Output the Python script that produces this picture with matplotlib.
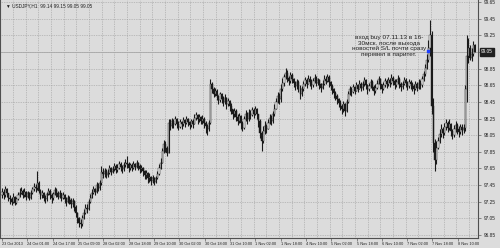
import numpy as np
import matplotlib
matplotlib.use("Agg")
import matplotlib.pyplot as plt
import matplotlib.transforms as mtransforms

# USDJPY H1 bars (one row = 16 bars)
close = [
    97.37, 97.33, 97.40, 97.35, 97.30, 97.28, 97.25, 97.31, 97.24, 97.28, 97.33, 97.36, 97.38, 97.33, 97.37, 97.31,
    97.35, 97.30, 97.36, 97.40, 97.43, 97.41, 97.47, 97.38, 97.33, 97.36, 97.30, 97.28, 97.34, 97.38, 97.33, 97.29,
    97.34, 97.39, 97.36, 97.31, 97.35, 97.30, 97.33, 97.28, 97.25, 97.30, 97.27, 97.22, 97.26, 97.19, 97.12, 97.05,
    97.00, 96.98, 97.06, 97.12, 97.18, 97.16, 97.25, 97.30, 97.36, 97.40, 97.37, 97.45, 97.41, 97.47, 97.61, 97.58,
    97.62, 97.57, 97.60, 97.65, 97.61, 97.64, 97.68, 97.63, 97.66, 97.70, 97.67, 97.64, 97.69, 97.72, 97.70, 97.66,
    97.69, 97.66, 97.70, 97.67, 97.71, 97.68, 97.64, 97.66, 97.62, 97.57, 97.60, 97.53, 97.55, 97.50, 97.54, 97.49,
    97.53, 97.58, 97.66, 97.72, 97.86, 97.94, 97.90, 97.84, 98.20, 98.16, 98.22, 98.18, 98.24, 98.19, 98.15, 98.21,
    98.18, 98.23, 98.20, 98.25, 98.21, 98.17, 98.22, 98.19, 98.26, 98.29, 98.24, 98.27, 98.22, 98.25, 98.20, 98.16,
    98.12, 98.20, 98.66, 98.60, 98.55, 98.58, 98.52, 98.47, 98.54, 98.49, 98.45, 98.50, 98.42, 98.46, 98.40, 98.36,
    98.30, 98.34, 98.27, 98.22, 98.28, 98.20, 98.14, 98.25, 98.30, 98.24, 98.32, 98.29, 98.35, 98.31, 98.36, 98.30,
    98.22, 98.08, 97.98, 98.10, 98.16, 98.12, 98.20, 98.26, 98.22, 98.30, 98.37, 98.45, 98.52, 98.49, 98.60, 98.68,
    98.75, 98.80, 98.74, 98.70, 98.77, 98.72, 98.68, 98.64, 98.69, 98.62, 98.55, 98.60, 98.66, 98.71, 98.67, 98.73,
    98.69, 98.65, 98.70, 98.74, 98.68, 98.71, 98.66, 98.62, 98.67, 98.73, 98.70, 98.75, 98.69, 98.64, 98.60, 98.56,
    98.52, 98.48, 98.44, 98.40, 98.36, 98.42, 98.34, 98.45, 98.55, 98.60, 98.57, 98.63, 98.58, 98.65, 98.61, 98.67,
    98.62, 98.66, 98.71, 98.65, 98.60, 98.64, 98.69, 98.63, 98.58, 98.62, 98.67, 98.72, 98.66, 98.61, 98.65, 98.70,
    98.66, 98.71, 98.68, 98.74, 98.70, 98.65, 98.69, 98.73, 98.67, 98.63, 98.66, 98.71, 98.68, 98.64, 98.69, 98.66,
    98.64, 98.60, 98.66, 98.62, 98.68, 98.65, 98.72, 98.78, 98.86, 98.95, 99.10, 99.25, 98.40, 97.95, 97.75, 97.90,
    97.98, 98.06, 98.12, 98.08, 98.15, 98.20, 98.14, 98.18, 98.10, 98.05, 98.12, 98.17, 98.13, 98.09, 98.15, 98.11,
    98.14, 98.60, 99.00, 99.10, 98.98, 99.02, 99.14, 99.05,
]
high = [
    97.42, 97.40, 97.44, 97.42, 97.36, 97.33, 97.31, 97.35, 97.32, 97.31, 97.37, 97.41, 97.43, 97.40, 97.41, 97.38,
    97.38, 97.37, 97.39, 97.43, 97.47, 97.46, 97.62, 97.50, 97.40, 97.39, 97.37, 97.33, 97.37, 97.42, 97.40, 97.35,
    97.37, 97.43, 97.41, 97.38, 97.39, 97.36, 97.37, 97.34, 97.31, 97.33, 97.32, 97.29, 97.29, 97.27, 97.21, 97.13,
    97.07, 97.04, 97.09, 97.16, 97.22, 97.22, 97.28, 97.34, 97.40, 97.44, 97.42, 97.49, 97.48, 97.51, 97.68, 97.66,
    97.66, 97.64, 97.64, 97.69, 97.67, 97.68, 97.72, 97.70, 97.70, 97.74, 97.73, 97.69, 97.73, 97.76, 97.80, 97.73,
    97.72, 97.71, 97.74, 97.72, 97.75, 97.73, 97.70, 97.69, 97.67, 97.63, 97.63, 97.61, 97.59, 97.56, 97.57, 97.55,
    97.56, 97.62, 97.70, 97.77, 97.90, 97.99, 97.98, 97.92, 98.24, 98.25, 98.26, 98.25, 98.28, 98.26, 98.22, 98.25,
    98.22, 98.27, 98.25, 98.28, 98.26, 98.22, 98.25, 98.24, 98.30, 98.33, 98.30, 98.31, 98.28, 98.29, 98.27, 98.22,
    98.19, 98.23, 98.72, 98.69, 98.63, 98.62, 98.60, 98.53, 98.57, 98.56, 98.52, 98.54, 98.51, 98.50, 98.47, 98.44,
    98.36, 98.38, 98.36, 98.30, 98.32, 98.29, 98.22, 98.28, 98.35, 98.33, 98.36, 98.35, 98.39, 98.38, 98.40, 98.38,
    98.31, 98.24, 98.10, 98.16, 98.22, 98.19, 98.24, 98.30, 98.29, 98.34, 98.42, 98.50, 98.57, 98.56, 98.66, 98.74,
    98.79, 98.86, 98.83, 98.76, 98.81, 98.80, 98.74, 98.70, 98.73, 98.71, 98.65, 98.64, 98.70, 98.75, 98.74, 98.77,
    98.76, 98.72, 98.74, 98.78, 98.76, 98.74, 98.73, 98.68, 98.71, 98.77, 98.76, 98.79, 98.77, 98.70, 98.66, 98.62,
    98.58, 98.55, 98.50, 98.47, 98.42, 98.46, 98.44, 98.49, 98.58, 98.64, 98.63, 98.67, 98.64, 98.69, 98.67, 98.71,
    98.69, 98.70, 98.75, 98.73, 98.66, 98.68, 98.73, 98.71, 98.65, 98.66, 98.71, 98.76, 98.74, 98.67, 98.69, 98.74,
    98.73, 98.75, 98.74, 98.78, 98.76, 98.72, 98.73, 98.77, 98.75, 98.69, 98.70, 98.75, 98.74, 98.70, 98.72, 98.71,
    98.69, 98.67, 98.70, 98.69, 98.72, 98.71, 98.76, 98.82, 98.90, 99.02, 99.20, 99.43, 99.30, 98.50, 98.00, 97.98,
    98.03, 98.12, 98.18, 98.15, 98.20, 98.25, 98.22, 98.24, 98.20, 98.13, 98.17, 98.22, 98.20, 98.16, 98.19, 98.18,
    98.19, 98.65, 99.25, 99.22, 99.14, 99.10, 99.18, 99.15,
]
low = [
    97.30, 97.28, 97.31, 97.31, 97.26, 97.22, 97.21, 97.24, 97.21, 97.22, 97.27, 97.31, 97.34, 97.29, 97.31, 97.27,
    97.29, 97.27, 97.28, 97.34, 97.38, 97.37, 97.39, 97.35, 97.28, 97.30, 97.26, 97.23, 97.26, 97.33, 97.28, 97.24,
    97.27, 97.33, 97.31, 97.28, 97.29, 97.26, 97.28, 97.23, 97.20, 97.24, 97.22, 97.18, 97.19, 97.14, 97.07, 97.00,
    96.95, 96.93, 96.96, 97.04, 97.10, 97.12, 97.15, 97.23, 97.29, 97.34, 97.33, 97.35, 97.38, 97.39, 97.45, 97.53,
    97.55, 97.53, 97.55, 97.58, 97.57, 97.59, 97.62, 97.59, 97.61, 97.64, 97.62, 97.59, 97.62, 97.67, 97.65, 97.61,
    97.63, 97.62, 97.64, 97.63, 97.66, 97.63, 97.60, 97.61, 97.56, 97.52, 97.52, 97.47, 97.49, 97.45, 97.47, 97.45,
    97.48, 97.52, 97.57, 97.64, 97.71, 97.84, 97.85, 97.80, 97.83, 98.11, 98.14, 98.14, 98.17, 98.14, 98.11, 98.14,
    98.13, 98.16, 98.15, 98.19, 98.16, 98.12, 98.15, 98.14, 98.18, 98.23, 98.19, 98.21, 98.18, 98.19, 98.14, 98.08,
    98.05, 98.10, 98.18, 98.56, 98.51, 98.52, 98.47, 98.42, 98.45, 98.44, 98.40, 98.42, 98.37, 98.40, 98.34, 98.31,
    98.25, 98.27, 98.22, 98.17, 98.20, 98.13, 98.10, 98.12, 98.22, 98.19, 98.22, 98.25, 98.28, 98.26, 98.29, 98.24,
    98.15, 98.02, 97.86, 97.95, 98.07, 98.08, 98.12, 98.19, 98.17, 98.20, 98.28, 98.36, 98.44, 98.43, 98.45, 98.58,
    98.64, 98.72, 98.69, 98.65, 98.68, 98.68, 98.63, 98.59, 98.61, 98.57, 98.48, 98.52, 98.58, 98.64, 98.62, 98.66,
    98.64, 98.60, 98.63, 98.68, 98.64, 98.65, 98.61, 98.57, 98.60, 98.65, 98.66, 98.69, 98.63, 98.59, 98.54, 98.50,
    98.47, 98.43, 98.39, 98.35, 98.31, 98.33, 98.28, 98.33, 98.44, 98.53, 98.52, 98.56, 98.54, 98.58, 98.57, 98.60,
    98.58, 98.59, 98.64, 98.60, 98.55, 98.58, 98.62, 98.59, 98.53, 98.56, 98.61, 98.66, 98.61, 98.56, 98.59, 98.63,
    98.62, 98.64, 98.63, 98.67, 98.65, 98.60, 98.63, 98.67, 98.62, 98.58, 98.60, 98.65, 98.63, 98.59, 98.62, 98.60,
    98.58, 98.55, 98.59, 98.58, 98.61, 98.60, 98.63, 98.70, 98.76, 98.84, 98.93, 99.00, 98.30, 97.85, 97.62, 97.70,
    97.88, 97.95, 98.03, 98.02, 98.05, 98.11, 98.09, 98.11, 98.04, 98.00, 98.03, 98.09, 98.07, 98.03, 98.07, 98.05,
    98.08, 98.10, 98.45, 98.92, 98.95, 98.94, 99.00, 99.05,
]
first_open = 97.33

time_labels = ["23 Oct 2013", "24 Oct 01:00", "24 Oct 17:00", "25 Oct 09:00", "28 Oct 02:00",
               "28 Oct 18:00", "29 Oct 10:00", "30 Oct 02:00", "30 Oct 18:00", "31 Oct 10:00",
               "1 Nov 02:00", "1 Nov 18:00", "4 Nov 10:00", "5 Nov 02:00", "5 Nov 18:00",
               "6 Nov 10:00", "7 Nov 02:00", "7 Nov 18:00", "8 Nov 10:00"]
price_ticks = [96.85, 97.05, 97.25, 97.45, 97.65, 97.85, 98.05, 98.25, 98.45,
               98.65, 98.85, 99.05, 99.25, 99.45, 99.65]
header = "\u25bc USDJPY,H1  99.14 99.15 99.05 99.05"
note = ("вход buy 07.11.13 в 16-\n30мск. после выхода\n"
        "новостей S/L почти сразу\nперевел в паритет.")
bid = 99.05
entry_bar, entry_price = 265.5, 99.06

bg = "#dcdcdc"
fig = plt.figure(figsize=(5.0, 2.48), dpi=100, facecolor=bg)
ax = fig.add_axes([0.0, 10 / 248, 478 / 500, 238 / 248], facecolor=bg)

n = len(close)
idx = np.arange(n)
c = np.array(close)
o = np.concatenate([[first_open], c[:-1]])
h = np.maximum(np.array(high), np.maximum(o, c))
l = np.minimum(np.array(low), np.minimum(o, c))

# grid
for gx in np.arange(-1, n + 2, 7.9):
    ax.axvline(gx, color="#9a9a9a", lw=0.5, ls=(0, (1, 1.5)), zorder=0)
for gy in price_ticks:
    ax.axhline(gy, color="#9a9a9a", lw=0.5, ls=(0, (1, 1.5)), zorder=0)

ax.axhline(bid, color="#a8a8a8", lw=0.6, zorder=1)

# candles
ax.vlines(idx, l, h, color="#1a1a1a", lw=0.8, zorder=2)
up = c >= o
ax.bar(idx[up], (c - o)[up], bottom=o[up], width=0.75, color="#f0f0f0",
       edgecolor="#1a1a1a", lw=0.3, zorder=3)
ax.bar(idx[~up], (c - o)[~up], bottom=o[~up], width=0.75, color="#1a1a1a",
       edgecolor="#1a1a1a", lw=0.3, zorder=3)

ax.scatter([entry_bar], [entry_price], s=3, marker="s", color="#2040ff", zorder=4)

ax.set_xlim(-1.25, 297.0)
ax.set_ylim(96.814, 99.675)

ax.set_xticks(np.arange(len(time_labels)) * 15.8)
ax.set_xticklabels(time_labels, fontsize=2.8, family="Liberation Sans",
                   ha="left", color="#202020")
ax.tick_params(axis="x", length=2, width=0.4, pad=1.2, color="#404040")

# the bid box covers the 99.05 label, as in the terminal
ax.yaxis.tick_right()
ax.set_yticks(price_ticks)
ax.set_yticklabels(["" if v == bid else f"{v:.2f}" for v in price_ticks],
                   fontsize=3.4, family="Liberation Sans", color="#202020")
ax.tick_params(axis="y", length=2, width=0.4, pad=2.5, color="#404040")

ax.spines["top"].set_visible(False)
for s in ["left", "right", "bottom"]:
    ax.spines[s].set_color("#505050")
    ax.spines[s].set_linewidth(0.8)

ax.text(0.012, 0.985, header, transform=ax.transAxes, fontsize=3.4,
        family=["Liberation Sans", "DejaVu Sans"], va="top", ha="left", color="#202020")

ax.text(389 / 478, 1 - 46 / 238, note, transform=ax.transAxes, fontsize=4.6,
        family="Liberation Sans", ha="center", va="center", color="#202020",
        linespacing=1.15)

trans = mtransforms.blended_transform_factory(ax.transAxes, ax.transData)
ax.text(1.006, bid, f"{bid:.2f}", transform=trans, fontsize=3.4,
        family="Liberation Sans", ha="left", va="center", color="white",
        bbox=dict(boxstyle="square,pad=0.25", fc="#202020", ec="#202020"),
        zorder=5, clip_on=False)

fig.savefig("out.png", dpi=100, facecolor=bg)
